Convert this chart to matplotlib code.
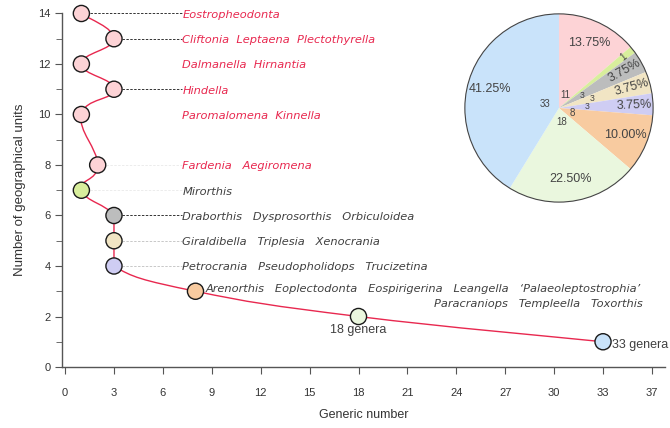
"""
Generic number vs. number of geographical units, with pie inset.
"""

import matplotlib.pyplot as plt
from matplotlib.path import Path
from matplotlib.patches import PathPatch, Circle
import numpy as np

plt.rcParams['font.family'] = ['Liberation Sans', 'DejaVu Sans']

# data
generic_number = [1, 3, 1, 3, 1, 2, 1, 3, 3, 3, 8, 18, 33]
geo_units = [14, 13, 12, 11, 10, 8, 7, 6, 5, 4, 3, 2, 1]
point_colors = ['#fdd3d6', '#fdd3d6', '#fdd3d6', '#fdd3d6', '#fdd3d6', '#fdd3d6',
                '#d8ee9c', '#bcbdbd', '#f1e5c4', '#cfcdf3', '#f8cba0', '#eaf7de', '#c9e3fa']

genera_labels = {
    14: 'Eostropheodonta',
    13: 'Cliftonia  Leptaena  Plectothyrella',
    12: 'Dalmanella  Hirnantia',
    11: 'Hindella',
    10: 'Paromalomena  Kinnella',
    8: 'Fardenia   Aegiromena',
    7: 'Mirorthis',
    6: 'Draborthis   Dysprosorthis   Orbiculoidea',
    5: 'Giraldibella   Triplesia   Xenocrania',
    4: 'Petrocrania   Pseudopholidops   Trucizetina',
}
label3_line1 = "Arenorthis   Eoplectodonta   Eospirigerina   Leangella   \u2018Palaeoleptostrophia\u2019"
label3_line2 = 'Paracraniops   Templeella   Toxorthis'

red_units = [14, 13, 12, 11, 10, 8]
leader_dark = [14, 13, 11, 6]
leader_light = [5, 4]
leader_faint = [8, 7]

x_ticks = [0, 3, 6, 9, 12, 15, 18, 21, 24, 27, 30, 33, 36]
x_ticklabels = ['0', '3', '6', '9', '12', '15', '18', '21', '24', '27', '30', '33', '37']

pie_counts = [11, 1, 3, 3, 3, 8, 18, 33]
pie_colors = ['#fdd3d6', '#d8ee9c', '#bcbdbd', '#f1e5c4', '#cfcdf3', '#f8cba0', '#eaf7de', '#c9e3fa']

RED = '#e8284f'
DARK = '#404040'
AXIS = '#555555'
GENUS_FONT = dict(family='DejaVu Sans', style='oblique', fontsize=8.2)

fig = plt.figure(figsize=(6.7, 4.28), dpi=100)
ax = fig.add_axes([0.0925, 0.1425, 0.9, 0.826])

# smooth curve (Catmull-Rom -> cubic Bezier) through the points,
# kept straight where two neighbours share the same generic number
pts = np.column_stack([generic_number, geo_units]).astype(float)
ext = np.vstack([pts[0], pts, pts[-1]])
verts = [tuple(pts[0])]
codes = [Path.MOVETO]
for i in range(1, len(ext) - 2):
    p0, p1, p2, p3 = ext[i - 1], ext[i], ext[i + 1], ext[i + 2]
    if p1[0] == p2[0] and (p0[0] == p1[0] or p3[0] == p2[0]):
        c1 = p1 + (p2 - p1) / 3.0
        c2 = p2 - (p2 - p1) / 3.0
    else:
        c1 = p1 + (p2 - p0) / 4.5
        c2 = p2 - (p3 - p1) / 4.5
    verts += [tuple(c1), tuple(c2), tuple(p2)]
    codes += [Path.CURVE4] * 3
ax.add_patch(PathPatch(Path(verts, codes), facecolor='none', edgecolor=RED, lw=1.0, zorder=2))

label_x = 7.2
for xv, yv in zip(generic_number, geo_units):
    if yv in leader_dark:
        ax.plot([xv + 0.5, label_x], [yv, yv], ls=(0, (2.5, 1.5)), color='#333333', lw=0.7, zorder=1)
    elif yv in leader_light:
        ax.plot([xv + 0.5, label_x], [yv, yv], ls=(0, (2.5, 1.5)), color='#c8c8c8', lw=0.7, zorder=1)
    elif yv in leader_faint:
        ax.plot([xv + 0.5, label_x], [yv, yv], ls=(0, (2.5, 1.5)), color='#ececec', lw=0.7, zorder=1)

ax.scatter(generic_number, geo_units, s=135, c=point_colors, edgecolors='#1a1a1a',
           linewidths=1.0, zorder=3, clip_on=False)

for yv, txt in genera_labels.items():
    ax.text(label_x, yv - 0.05, txt, color=RED if yv in red_units else DARK,
            ha='left', va='center', **GENUS_FONT)

ax.text(8.6, 3.07, label3_line1, color=DARK, ha='left', va='center', **GENUS_FONT)
ax.text(35.45, 2.5, label3_line2, color=DARK, ha='right', va='center', **GENUS_FONT)
ax.text(18, 1.45, '18 genera', color=DARK, fontsize=9, ha='center', va='center')
ax.text(33.55, 0.87, '33 genera', color=DARK, fontsize=9, ha='left', va='center')

ax.set_xlim(-0.19, 36.8)
ax.set_ylim(0, 14)
ax.set_xticks(x_ticks)
ax.set_xticklabels(x_ticklabels)
ax.set_yticks([0, 2, 4, 6, 8, 10, 12, 14])
ax.set_yticks([1, 3, 5, 7, 9, 11, 13], minor=True)
for s in ['top', 'right']:
    ax.spines[s].set_visible(False)
for s in ['left', 'bottom']:
    ax.spines[s].set_color(AXIS)
    ax.spines[s].set_linewidth(1.0)
ax.tick_params(axis='x', direction='out', length=5, pad=10, colors=AXIS, labelsize=8, labelcolor='#333333')
ax.tick_params(axis='y', which='major', direction='out', length=5, pad=3, colors=AXIS, labelsize=8, labelcolor='#333333')
ax.tick_params(axis='y', which='minor', direction='out', length=4, colors=AXIS)
ax.set_xlabel('Generic number', fontsize=9, color='#333333', labelpad=8)
ax.set_ylabel('Number of geographical units', fontsize=9.5, color='#333333', labelpad=9)

# pie inset
axp = fig.add_axes([0.691, 0.5234, 0.2866, 0.4486])
wedges, texts, autotexts = axp.pie(
    pie_counts, colors=pie_colors, startangle=90, counterclock=False,
    labels=[str(c) for c in pie_counts], labeldistance=0.15,
    autopct='%.2f%%', pctdistance=0.76,
    textprops=dict(color='#444444'))
small_label_r = [0.28, 0.37, 0.30]
k = 0
for w, t, at, c in zip(wedges, texts, autotexts, pie_counts):
    mid = np.deg2rad((w.theta1 + w.theta2) / 2)
    r = 0.15
    if c == 3:
        r = small_label_r[k]
        k += 1
    t.set_position((r * np.cos(mid), r * np.sin(mid)))
    t.set_ha('center')
    t.set_va('center')
    t.set_fontsize(7 if c > 3 else 6.2)
    at.set_fontsize(9)
    if c <= 3:
        at.set_rotation(np.rad2deg(mid))
        at.set_position((0.8 * np.cos(mid), 0.8 * np.sin(mid)))
    if c == 1:
        at.set_text('1')
        at.set_fontsize(7)
        at.set_position((0.88 * np.cos(mid), 0.88 * np.sin(mid)))
        t.set_text('')
axp.add_patch(Circle((0, 0), 1.0, fill=False, ec='#444444', lw=0.8))
axp.set_xlim(-1.02, 1.02)
axp.set_ylim(-1.02, 1.02)
axp.set_aspect('equal')

fig.savefig('out.png', dpi=100, facecolor='white')
